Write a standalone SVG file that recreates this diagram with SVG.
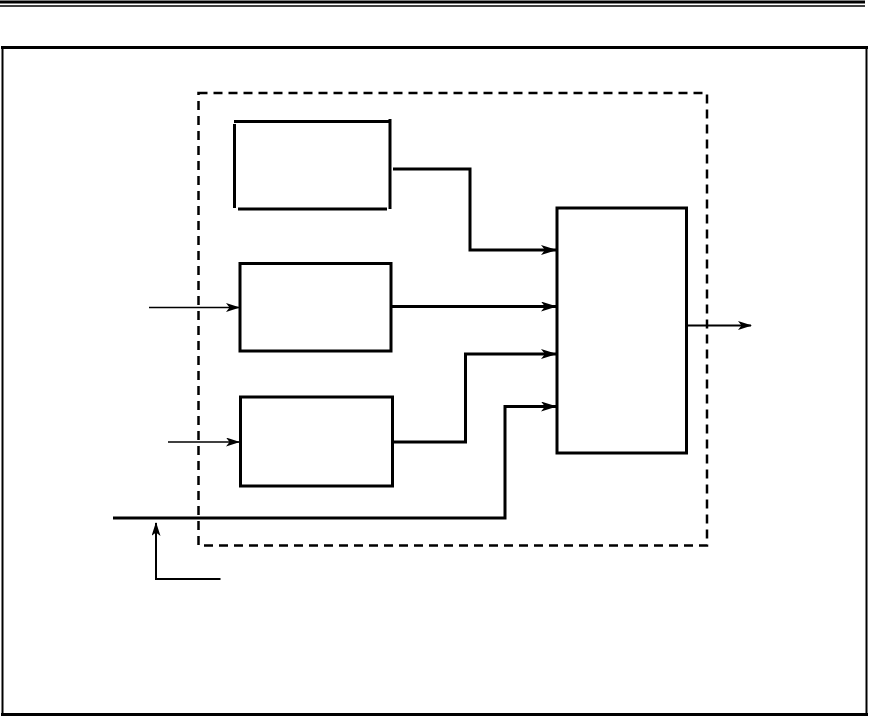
<svg xmlns="http://www.w3.org/2000/svg" width="870" height="717" viewBox="0 0 870 717">
<style>
.box{fill:none;stroke:#000;stroke-width:3}
.thick{fill:none;stroke:#000;stroke-width:3}
.thin{fill:none;stroke:#000;stroke-width:1.6}
.med{fill:none;stroke:#000;stroke-width:2}
.dash{fill:none;stroke:#000;stroke-width:2.5;stroke-dasharray:9,6}
</style>
<defs>
<marker id="ah" viewBox="0 0 16 10" refX="15" refY="5" markerWidth="16" markerHeight="10" markerUnits="userSpaceOnUse" orient="auto">
<path d="M0,0 L16,5 L0,10 L4,5 Z" fill="#000"/>
</marker>
<marker id="ahs" viewBox="0 0 14 9" refX="13" refY="4.5" markerWidth="14" markerHeight="9" markerUnits="userSpaceOnUse" orient="auto">
<path d="M0,0 L14,4.5 L0,9 L3.5,4.5 Z" fill="#000"/>
</marker>
</defs>
<rect width="870" height="717" fill="#fff"/>
<g id="header">
<line x1="0" y1="2" x2="865" y2="2" stroke="#000" stroke-width="3"/>
<line x1="0" y1="6" x2="865" y2="6" stroke="#000" stroke-width="1.5"/>
</g>
<g id="frame">
<line x1="1" y1="47.5" x2="868" y2="47.5" stroke="#000" stroke-width="3"/>
<line x1="2.5" y1="47" x2="2.5" y2="716" stroke="#000" stroke-width="2"/>
<line x1="866.5" y1="47" x2="866.5" y2="716" stroke="#000" stroke-width="2"/>
<line x1="1" y1="714.5" x2="868" y2="714.5" stroke="#000" stroke-width="3"/>
</g>
<g id="boundary">
<rect class="dash" x="198.5" y="93" width="508.5" height="452.5"/>
</g>
<g id="block1">
<line class="box" x1="234.5" y1="124" x2="234.5" y2="208"/>
<line class="box" x1="234" y1="121.5" x2="390" y2="121.5"/>
<line class="box" x1="390" y1="119" x2="390" y2="209"/>
<line class="box" x1="238" y1="209" x2="387" y2="209"/>
</g>
<g id="block2">
<rect class="box" x="240" y="263.5" width="151" height="87.5"/>
</g>
<g id="block3">
<rect class="box" x="240.5" y="397" width="152" height="89"/>
</g>
<g id="block4">
<rect class="box" x="557" y="208" width="129.5" height="245"/>
</g>
<g id="connectors">
<polyline class="thick" points="393,169 470,169 470,250 556,250" marker-end="url(#ah)"/>
<polyline class="thick" points="392,306.5 556,306.5" marker-end="url(#ah)"/>
<polyline class="thick" points="392,442 465.5,442 465.5,354 556,354" marker-end="url(#ah)"/>
<polyline class="thick" points="113,518 505,518 505,406.5 556,406.5" marker-end="url(#ah)"/>
<line class="thin" x1="149" y1="307.5" x2="239" y2="307.5" marker-end="url(#ahs)"/>
<line class="thin" x1="168" y1="442" x2="239" y2="442" marker-end="url(#ahs)"/>
<polyline class="med" points="220.5,579 156,579 156,523" marker-end="url(#ahs)"/>
<line class="med" x1="687" y1="325.5" x2="751" y2="325.5" marker-end="url(#ahs)"/>
</g>
</svg>
